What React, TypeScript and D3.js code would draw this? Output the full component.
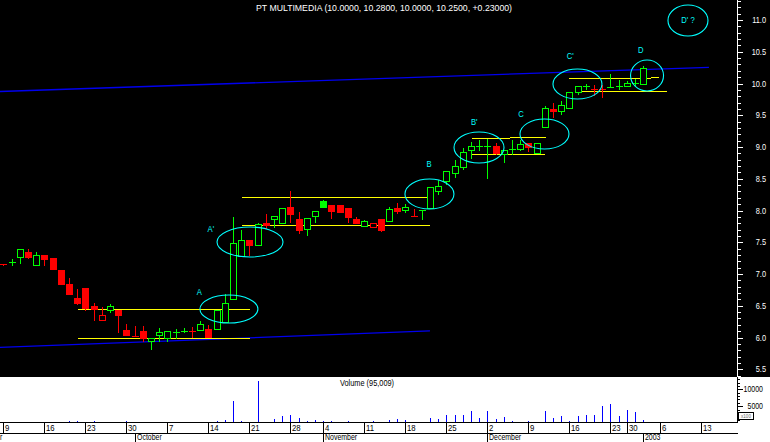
import React from "react";
import * as d3 from "d3";

// ---- Data (trading-day index from Mon 9 Sep 2002) ----
const opens = [7.16,7.19,7.27,7.34,7.15,7.30,7.25,7.06,6.84,6.62,6.78,6.50,6.27,6.43,6.43,6.12,6.02,6.10,5.95,6.04,6.00,6.09,6.10,6.11,6.12,6.13,6.13,6.25,6.60,7.28,7.54,7.45,7.80,7.86,7.80,8.05,7.87,7.71,7.91,8.15,8.09,8.09,8.04,7.87,7.75,7.74,7.87,7.84,8.04,8.01,7.91,8.00,8.04,8.31,8.47,8.59,8.69,8.96,9.01,9.02,9.02,8.89,8.96,8.97,9.07,8.91,9.31,9.60,9.56,9.62,9.87,9.95,9.92,9.92,9.94,9.95,9.96,10.01,10.00];
const highs = [7.16,7.23,7.39,7.39,7.34,7.30,7.25,7.06,6.94,6.76,6.78,6.54,6.48,6.53,6.43,6.21,6.18,6.18,6.00,6.15,6.10,6.13,6.15,6.17,6.26,6.20,6.44,6.68,7.90,7.69,7.54,7.80,7.94,7.91,8.04,8.31,7.97,7.89,8.00,8.17,8.09,8.09,8.04,7.90,7.85,7.80,7.87,8.06,8.12,8.10,8.02,8.01,8.37,8.48,8.62,8.79,8.98,9.08,9.11,9.13,9.07,8.95,9.11,9.11,9.07,9.06,9.65,9.69,9.72,9.86,9.96,10.00,9.97,9.97,10.15,10.05,10.04,10.07,10.28];
const lows = [7.14,7.15,7.18,7.26,7.15,7.15,7.08,6.85,6.69,6.53,6.44,6.27,6.27,6.41,6.09,6.04,6.02,5.95,5.82,5.95,5.95,6.00,6.08,6.01,6.12,6.01,6.13,6.25,6.60,7.28,7.30,7.45,7.72,7.74,7.80,7.82,7.65,7.61,7.82,8.05,7.89,7.97,7.82,7.81,7.75,7.74,7.68,7.84,7.96,7.98,7.91,7.86,8.04,8.26,8.42,8.53,8.66,8.82,8.96,8.52,8.89,8.77,8.885,8.96,8.93,8.91,9.31,9.48,9.52,9.62,9.83,9.91,9.82,9.78,9.94,9.91,9.96,9.98,10.00];
const closes = [7.15,7.20,7.39,7.27,7.30,7.24,7.08,6.85,6.69,6.55,6.46,6.45,6.35,6.49,6.36,6.04,6.02,5.99,5.99,6.08,6.10,6.10,6.11,6.10,6.21,6.01,6.44,6.55,7.49,7.54,7.45,7.78,7.77,7.91,8.04,7.95,7.70,7.89,8.00,8.06,8.00,7.97,7.90,7.81,7.84,7.80,7.69,8.03,8.00,8.05,7.91,8.01,8.37,8.38,8.62,8.70,8.92,9.02,9.02,9.02,8.91,8.95,8.97,9.05,9.00,9.06,9.61,9.56,9.66,9.86,9.96,9.96,9.91,9.90,9.95,9.96,10.01,10.02,10.25];
const volumes = [0,0,300,0,0,0,300,0,500,700,400,700,0,0,0,700,0,0,0,0,0,0,0,0,0,0,600,1000,6400,600,400,12400,400,1200,2100,2400,1500,600,900,600,700,0,600,300,0,700,0,900,1200,900,300,400,1500,1200,2500,2500,2500,3700,1500,3700,1200,1800,700,400,700,400,3700,1500,2100,700,2100,2500,2500,5100,5700,2100,3900,3400,950];
const prevCloseBefore = 7.17;

const dayTickIdx = [0,5,10,15,20,25,30,35,39,44,49,54,59,64,69,74,76,80,85];
const dayTickLbl = ["9","16","23","30","7","14","21","28","4","11","18","25","2","9","16","23","30","6","13"];
// month row: the September label is cut by the left edge in the original, only its last letter shows
const monthIdx = [-0.6,16,39,59,78];
const monthLbl = ["r","October","November","December","2003"];

const priceMajor = [5.5,6.0,6.5,7.0,7.5,8.0,8.5,9.0,9.5,10.0,10.5,11.0];
const volMajor = [5000,10000];

// trend lines (blue): [i1, p1, i2, p2]
const blueLines = [
  [-0.4, 5.846, 52.0, 6.105],
  [-0.4, 9.874, 86.0, 10.255],
];
// support / resistance (yellow): [i1, i2, price]
const yellowLines = [
  [9.1, 30.1, 6.444], [9.1, 30.1, 5.987],
  [29.1, 52.0, 8.208], [29.1, 52.0, 7.772],
  [57.1, 61.8, 9.137], [61.8, 66.1, 9.153], [57.1, 66.0, 8.885],
  [68.9, 78.9, 10.082], [78.9, 79.9, 10.098], [70.3, 80.9, 9.877],
];
// ellipses: [i, price, rx, ry]
const ellipses = [
  [27.5, 6.449, 29, 14], [30.07, 7.504, 33, 15], [51.94, 8.26, 24.5, 15],
  [57.98, 8.992, 25, 15.5], [65.96, 9.205, 24.5, 15], [69.98, 9.992, 24.5, 15],
  [78.46, 10.126, 16.5, 15.5], [83.45, 10.992, 20, 15.5],
];
const labelText = ["A", "A'", "B", "B'", "C", "C'", "D", "D' ?"];
const labelIdx = [23.9, 25.3, 51.9, 57.4, 63.1, 69.1, 77.7, 83.45];
const labelPrice = [6.716, 7.709, 8.732, 9.394, 9.52, 10.438, 10.528, 11.0];

const TITLE = "PT MULTIMEDIA (10.0000, 10.2800, 10.0000, 10.2500, +0.23000)";
const VOLTITLE = "Volume (95,009)";

const FONT = "'Liberation Sans',Arial,sans-serif";
const GREEN = "#00ff00";
const RED = "#ff0000";
const CYAN = "#00ffff";

function NText(props: { x: number; y: number; size: number; fill: string; anchor?: string; sx?: number; children: any }) {
  const sx = props.sx ?? 0.82;
  return (
    <text
      transform={`translate(${props.x},${props.y}) scale(${sx},1)`}
      fill={props.fill}
      fontFamily={FONT}
      fontSize={props.size}
      textAnchor={props.anchor ?? "start"}
    >
      {props.children}
    </text>
  );
}

export default function App() {
  const W = 770, H = 442;
  const axisX = 737.5;
  const panelBottom = 377;
  const x = d3.scaleLinear().domain([0, 85]).range([3.3, 700.7]);
  const y = d3.scaleLinear().domain([5.5, 11]).range([369.3, 20]);
  const yv = d3.scaleLinear().domain([0, 10000]).range([423, 389.4]);

  const minorPrice = d3.range(54, 114).map((v) => v / 10);
  const minorVol = d3.range(1000, 14000, 1000);

  const candles = opens.map((o, i) => {
    const c = closes[i];
    const prev = i === 0 ? prevCloseBefore : closes[i - 1];
    const col = c < prev ? RED : GREEN;
    const cx = Math.round(x(i));
    const yo = y(o), yc = y(c), yh = y(highs[i]), yl = y(lows[i]);
    const wick = (
      <line key={"w" + i} x1={cx + 0.5} x2={cx + 0.5} y1={Math.round(yh)} y2={Math.round(yl) + 1} stroke={col} strokeWidth={1} />
    );
    let body;
    if (Math.abs(yo - yc) < 1.5) {
      const yy = Math.round((yo + yc) / 2) + 0.5;
      body = <line key={"b" + i} x1={cx - 3} x2={cx + 4} y1={yy} y2={yy} stroke={col} strokeWidth={1} />;
    } else if (c > o) {
      const top = Math.round(yc), bot = Math.round(yo);
      body = <rect key={"b" + i} x={cx - 2.5} y={top + 0.5} width={6} height={bot - top} fill="#000" stroke={col} strokeWidth={1} />;
    } else {
      const top = Math.round(yo), bot = Math.round(yc);
      body = <rect key={"b" + i} x={cx - 3} y={top} width={7} height={bot - top + 1} fill={col} />;
    }
    return <g key={i}>{wick}{body}</g>;
  });

  return (
    <svg width={W} height={H} style={{ position: "absolute", left: 0, top: 0, display: "block" }} shapeRendering="crispEdges">
      <rect x={0} y={0} width={W} height={H} fill="#fff" />
      <rect x={0} y={0} width={W} height={panelBottom} fill="#000" />

      {/* title */}
      <text x={384} y={11} fill="#fff" fontFamily={FONT} fontSize={9.5} textAnchor="middle" textLength={256} lengthAdjust="spacingAndGlyphs">{TITLE}</text>

      {/* trend lines */}
      {blueLines.map((l, k) => (
        <line key={"bl" + k} x1={x(l[0])} y1={y(l[1])} x2={x(l[2])} y2={y(l[3])} stroke="#0000ee" strokeWidth={1.3} shapeRendering="auto" />
      ))}
      {yellowLines.map((l, k) => {
        const yy = Math.round(y(l[2])) + 0.5;
        return <line key={"yl" + k} x1={x(l[0])} x2={x(l[1])} y1={yy} y2={yy} stroke="#ffff00" strokeWidth={1} />;
      })}

      {/* candles */}
      {candles}

      {/* ellipses & labels */}
      {ellipses.map((e, k) => (
        <ellipse key={"el" + k} cx={x(e[0])} cy={y(e[1])} rx={e[2]} ry={e[3]} fill="none" stroke={CYAN} strokeWidth={1.1} shapeRendering="auto" />
      ))}
      {labelText.map((t, k) => (
        <NText key={"lt" + k} x={x(labelIdx[k])} y={y(labelPrice[k]) + 3} fill={CYAN} size={8.5} anchor="middle" sx={0.9}>{t}</NText>
      ))}

      {/* price axis */}
      <line x1={axisX} x2={axisX} y1={0} y2={panelBottom} stroke="#fff" strokeWidth={1} />
      {minorPrice.map((p) => (
        <line key={"mp" + p} x1={axisX} x2={axisX + 3} y1={Math.round(y(p)) + 0.5} y2={Math.round(y(p)) + 0.5} stroke="#fff" />
      ))}
      {priceMajor.map((p) => (
        <g key={"pm" + p}>
          <line x1={axisX} x2={axisX + 5.5} y1={Math.round(y(p)) + 0.5} y2={Math.round(y(p)) + 0.5} stroke="#fff" />
          <NText x={766} y={y(p) + 3} fill="#fff" size={9} anchor="end">{p.toFixed(1)}</NText>
        </g>
      ))}

      {/* volume */}
      <NText x={367} y={386} fill="#000" size={9} anchor="middle">{VOLTITLE}</NText>
      {volumes.map((v, i) => v > 0 ? (
        <line key={"v" + i} x1={Math.round(x(i)) + 0.5} x2={Math.round(x(i)) + 0.5} y1={yv(v)} y2={422} stroke="#0000ff" strokeWidth={1} />
      ) : null)}
      <line x1={axisX} x2={axisX} y1={panelBottom} y2={422} stroke="#000" />
      {minorVol.map((v) => (
        <line key={"mv" + v} x1={axisX} x2={axisX + 2.5} y1={Math.round(yv(v)) + 0.5} y2={Math.round(yv(v)) + 0.5} stroke="#000" />
      ))}
      {volMajor.map((v) => (
        <g key={"vm" + v}>
          <line x1={axisX} x2={axisX + 5.5} y1={Math.round(yv(v)) + 0.5} y2={Math.round(yv(v)) + 0.5} stroke="#000" />
          <NText x={763} y={yv(v) + 3} fill="#000" size={8.5} anchor="end">{v}</NText>
        </g>
      ))}
      <rect x={738.5} y={412.5} width={15} height={7} fill="#fff" stroke="#000" />
      <NText x={746} y={418} fill="#666" size={5.5} anchor="middle">x100</NText>

      {/* date axis */}
      <line x1={0} x2={axisX} y1={422.5} y2={422.5} stroke="#000" />
      <line x1={0} x2={axisX} y1={433.5} y2={433.5} stroke="#000" />
      {dayTickIdx.map((d, k) => {
        const tx = Math.round(x(d)) + 0.5;
        return (
          <g key={"dt" + k}>
            <line x1={tx} x2={tx} y1={422} y2={433} stroke="#000" />
            <NText x={tx + 1.5} y={431} fill="#000" size={9.5}>{dayTickLbl[k]}</NText>
          </g>
        );
      })}
      {monthIdx.map((m, k) => {
        const tx = Math.round(x(m)) + 0.5;
        return (
          <g key={"mt" + k}>
            {k > 0 ? <line x1={tx} x2={tx} y1={433} y2={442} stroke="#000" /> : null}
            <NText x={tx + 1.5} y={439.6} fill="#000" size={8.5}>{monthLbl[k]}</NText>
          </g>
        );
      })}
    </svg>
  );
}
